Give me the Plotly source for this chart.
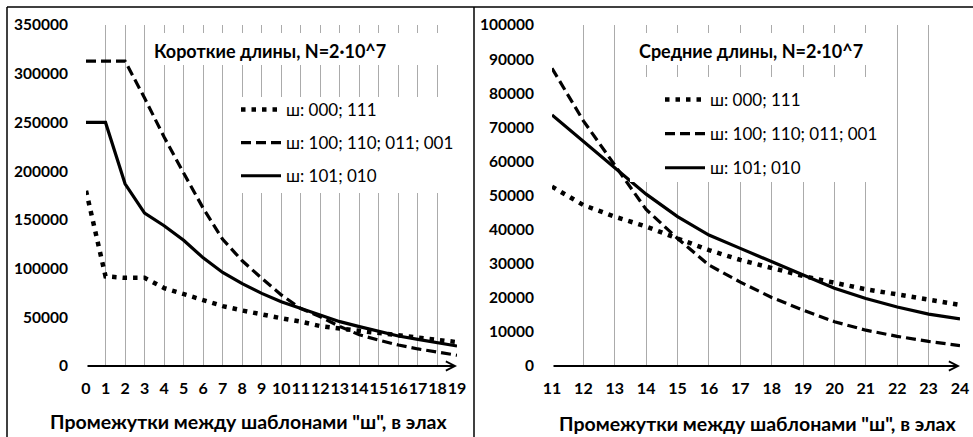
import plotly.graph_objects as go

# ---------------- data ----------------
x_short = list(range(0, 20))
short_000_111 = [180000, 92000, 90500, 90500, 80000, 74000, 67500, 61500, 57000, 52500,
                 49000, 45500, 41000, 38500, 36000, 33500, 31000, 28500, 26500, 24500]
short_100_110_011_001 = [313000, 313000, 313000, 275000, 235000, 198000, 162000, 130000, 108000, 90000,
                         73000, 59000, 50500, 40500, 32000, 26500, 21500, 17500, 14500, 11000]
short_101_010 = [250000, 250000, 187000, 157000, 144000, 129000, 111000, 96000, 84500, 74500,
                 66000, 59000, 52300, 45500, 40400, 35200, 30800, 27400, 24000, 20500]

x_mid = list(range(11, 25))
mid_000_111 = [52600, 47200, 43800, 40900, 37400, 34000, 31100, 28600, 26400, 24400, 22500, 21000, 19600, 17900]
mid_100_110_011_001 = [87300, 71900, 58900, 45900, 37400, 29600, 24600, 20100, 16400, 13000, 10500, 8700, 7200, 6000]
mid_101_010 = [73600, 65800, 58000, 50400, 43800, 38400, 34500, 30600, 26700, 22800, 19800, 17300, 15200, 13800]

series_names = ["ш: 000; 111", "ш: 100; 110; 011; 001", "ш: 101; 010"]
title_left = "Короткие длины, N=2·10^7"
title_right = "Средние длины, N=2·10^7"
x_title = "Промежутки между шаблонами \"ш\", в элах"
left_yticks = [0, 50000, 100000, 150000, 200000, 250000, 300000, 350000]
right_yticks = [0, 10000, 20000, 30000, 40000, 50000, 60000, 70000, 80000, 90000, 100000]

# ---------------- style ----------------
FONT = "Lato"
W, H = 973, 437
styles = [
    dict(color="black", width=4.5, dash="4.5px,6px"),
    dict(color="black", width=3.2, dash="10px,5px"),
    dict(color="black", width=3.2, dash="solid"),
]

fig = go.Figure()
left_sets = [short_000_111, short_100_110_011_001, short_101_010]
right_sets = [mid_000_111, mid_100_110_011_001, mid_101_010]
for i, (name, ys) in enumerate(zip(series_names, left_sets)):
    fig.add_trace(go.Scatter(x=x_short, y=ys, mode="lines", name=name, line=styles[i],
                             xaxis="x", yaxis="y", legend="legend", legendgroup="L%d" % i))
for i, (name, ys) in enumerate(zip(series_names, right_sets)):
    fig.add_trace(go.Scatter(x=x_mid, y=ys, mode="lines", name=name, line=styles[i],
                             xaxis="x2", yaxis="y2", legend="legend2", legendgroup="R%d" % i))

def px_x(p):
    return p / W

def px_y(p):
    return 1 - p / H

ydom = [px_y(366), px_y(25)]
common_x = dict(showgrid=True, gridcolor="#ababab", gridwidth=1, zeroline=False, showline=False,
                ticks="", tickfont=dict(family=FONT, size=16, color="black", weight="bold"),
                ticklabelstandoff=11, dtick=1, tick0=0, tickangle=0, automargin=False)
common_y = dict(showgrid=False, zeroline=False, showline=False, ticks="", automargin=False,
                tickfont=dict(family=FONT, size=15.5, color="black", weight="bold"),
                ticklabelstandoff=17)

fig.update_layout(
    width=W, height=H, margin=dict(l=0, r=0, t=0, b=0, autoexpand=False),
    paper_bgcolor="white", plot_bgcolor="white",
    font=dict(family=FONT, color="black"),
    xaxis=dict(domain=[px_x(86), px_x(457)], range=[0, 19], anchor="y", **common_x),
    yaxis=dict(domain=ydom, range=[0, 350000], anchor="x", tickvals=left_yticks,
               ticktext=[str(v) for v in left_yticks], **common_y),
    xaxis2=dict(domain=[px_x(552), px_x(960)], range=[11, 24], anchor="y2", **common_x),
    yaxis2=dict(domain=ydom, range=[0, 100000], anchor="x2", tickvals=right_yticks,
                ticktext=[str(v) for v in right_yticks], **common_y),
    legend=dict(x=px_x(236), y=px_y(92), xanchor="left", yanchor="top", bgcolor="rgba(0,0,0,0)",
                font=dict(family=FONT, size=17, color="black"), tracegroupgap=8, itemwidth=40),
    legend2=dict(x=px_x(660), y=px_y(82), xanchor="left", yanchor="top", bgcolor="rgba(0,0,0,0)",
                 font=dict(family=FONT, size=17, color="black"), tracegroupgap=9, itemwidth=40),
    showlegend=True,
)

# white boxes hiding the grid behind titles and legends (no data passes there)
boxes = [
    ("x", "y", 0.1725, 1.01, 0.8827, 0.9765),
    ("x", "y", 0.3935, 1.01, 0.5073, 0.7889),
    ("x2", "y2", 0.191, 0.816, 0.8827, 0.9765),
    ("x2", "y2", 0.191, 0.816, 0.5396, 0.8475),
]
for xr, yr, x0, x1, y0, y1 in boxes:
    fig.add_shape(type="rect", xref=xr + " domain", yref=yr + " domain", x0=x0, x1=x1, y0=y0, y1=y1,
                  fillcolor="white", line=dict(width=0), layer="above")

# axis arrows
fig.add_annotation(x=19, y=0, ax=0, ay=0, xref="x", yref="y", axref="x", ayref="y", text="",
                   showarrow=True, arrowhead=5, arrowsize=0.9, arrowwidth=2, arrowcolor="black", standoff=0)
fig.add_annotation(x=24, y=0, ax=11, ay=0, xref="x2", yref="y2", axref="x2", ayref="y2", text="",
                   showarrow=True, arrowhead=5, arrowsize=0.9, arrowwidth=2, arrowcolor="black", standoff=0)

# titles
fig.add_annotation(x=px_x(270), y=px_y(51), xref="paper", yref="paper", text=title_left, showarrow=False,
                   font=dict(family=FONT, size=18, color="black", weight="bold"), xanchor="center", yanchor="middle")
fig.add_annotation(x=px_x(751), y=px_y(51), xref="paper", yref="paper", text=title_right, showarrow=False,
                   font=dict(family=FONT, size=18, color="black", weight="bold"), xanchor="center", yanchor="middle")
fig.add_annotation(x=px_x(248), y=px_y(421), xref="paper", yref="paper", text=x_title, showarrow=False,
                   font=dict(family=FONT, size=19.5, color="black", weight="bold"), xanchor="center", yanchor="middle")
fig.add_annotation(x=px_x(757), y=px_y(423), xref="paper", yref="paper", text=x_title, showarrow=False,
                   font=dict(family=FONT, size=19.5, color="black", weight="bold"), xanchor="center", yanchor="middle")

# panel frames
frame = dict(color="black", width=1.5)
fig.add_shape(type="line", xref="paper", yref="paper", x0=px_x(7), x1=1, y0=px_y(7), y1=px_y(7), line=frame)
fig.add_shape(type="line", xref="paper", yref="paper", x0=px_x(7), x1=px_x(7), y0=px_y(7), y1=0, line=frame)
fig.add_shape(type="line", xref="paper", yref="paper", x0=px_x(474), x1=px_x(474), y0=px_y(7), y1=0, line=frame)

fig.write_html("out.html")
